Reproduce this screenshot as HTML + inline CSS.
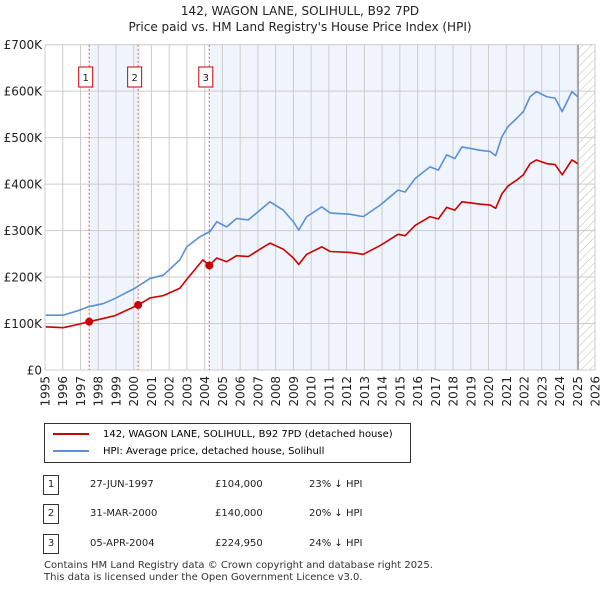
<!DOCTYPE html>
<html><head><meta charset="utf-8"><style>
body{margin:0;background:#fff;font-family:"DejaVu Sans","Liberation Sans",sans-serif;}
#wrap{position:relative;width:600px;height:590px;overflow:hidden;}
.t{position:absolute;color:#222;}
</style></head><body><div id="wrap">
<div class="t" style="left:0;width:600px;text-align:center;top:3px;font-size:12px;line-height:16px;">142, WAGON LANE, SOLIHULL, B92 7PD<br>Price paid vs. HM Land Registry's House Price Index (HPI)</div>
<svg id="chart" width="600" height="420" style="position:absolute;left:0;top:0;font-family:'DejaVu Sans','Liberation Sans',sans-serif;"></svg>
<div style="position:absolute;left:44px;top:423px;width:365px;height:38px;border:1px solid #333;font-size:10px;">
<div style="position:absolute;left:8px;top:5px;white-space:nowrap;"><span style="display:inline-block;width:36px;border-top:2px solid #cc0000;vertical-align:middle;margin-right:14px;"></span>142, WAGON LANE, SOLIHULL, B92 7PD (detached house)</div>
<div style="position:absolute;left:8px;top:22px;white-space:nowrap;"><span style="display:inline-block;width:36px;border-top:2px solid #5b8fd6;vertical-align:middle;margin-right:14px;"></span>HPI: Average price, detached house, Solihull</div>
</div>
<div id="tbl"></div>
<div class="t" style="left:44px;top:560px;font-size:10px;line-height:12px;color:#333;white-space:nowrap;">Contains HM Land Registry data © Crown copyright and database right 2025.<br>This data is licensed under the Open Government Licence v3.0.</div>
</div>
<script>
const hpiYears=[1995.04,1996.03,1996.97,1997.44,1998.29,1998.95,2000.07,2000.92,2001.67,2002.6,2002.99,2003.74,2004.3,2004.68,2005.24,2005.8,2006.46,2007.12,2007.68,2008.43,2009.0,2009.3,2009.75,2010.6,2011.07,2012.2,2012.94,2013.9,2014.9,2015.3,2015.86,2016.7,2017.17,2017.64,2018.1,2018.5,2019.5,2020.1,2020.4,2020.75,2021.1,2021.6,2021.96,2022.34,2022.7,2023.28,2023.75,2024.15,2024.7,2025.03];
const hpiValues=[118,118,129,136,143,154,176,197,204,237,265,287,298,319,308,326,323,344,362,344,319,301,330,351,338,335,330,355,387,383,412,437,430,463,455,480,473,470,461,502,524,542,556,588,599,588,585,556,599,588];
const redYears=[1995.04,1996.03,1996.97,1997.49,1998.29,1998.95,2000.25,2000.92,2001.67,2002.6,2002.99,2003.9,2004.26,2004.68,2005.24,2005.8,2006.46,2007.12,2007.68,2008.43,2009.0,2009.3,2009.75,2010.6,2011.07,2012.2,2012.94,2013.9,2014.9,2015.3,2015.86,2016.7,2017.17,2017.64,2018.1,2018.5,2019.5,2020.1,2020.4,2020.75,2021.1,2021.6,2021.96,2022.34,2022.7,2023.28,2023.75,2024.15,2024.7,2025.03];
const redValues=[93,91,99,104,111,117,140,155,160,176,195,237,225,241,233,246,244,260,273,260,241,227,249,265,255,253,249,268,292,289,311,330,325,350,344,362,357,355,348,379,396,409,420,444,452,444,442,420,452,444];
const saleYears=[1997.49,2000.25,2004.26];
const saleValues=[104,140,224.95];
const saleLabels=["1","2","3"];
const saleDates=["27-JUN-1997","31-MAR-2000","05-APR-2004"];
const salePrices=["£104,000","£140,000","£224,950"];
const saleHpi=["23% ↓ HPI","20% ↓ HPI","24% ↓ HPI"];
const yTicks=[0,100,200,300,400,500,600,700];
const yTickLabels=["£0","£100K","£200K","£300K","£400K","£500K","£600K","£700K"];
const xTicks=[1995,1996,1997,1998,1999,2000,2001,2002,2003,2004,2005,2006,2007,2008,2009,2010,2011,2012,2013,2014,2015,2016,2017,2018,2019,2020,2021,2022,2023,2024,2025,2026];
const dataEnd=2025.05;

const L=45,R=595,T=44.7,B=370,x0=1995,x1=2026,yMax=700;
const X=v=>L+(v-x0)/(x1-x0)*(R-L);
const Y=v=>B-v/yMax*(B-T);
const svg=document.getElementById('chart');
const NS='http://www.w3.org/2000/svg';
function mk(tag,attrs,parent){const e=document.createElementNS(NS,tag);for(const k in attrs)e.setAttribute(k,attrs[k]);(parent||svg).appendChild(e);return e;}
const defs=mk('defs',{});
const pat=mk('pattern',{id:'hatch',width:6,height:6,patternUnits:'userSpaceOnUse',patternTransform:'rotate(45)'},defs);
mk('line',{x1:0,y1:0,x2:0,y2:6,stroke:'#bbb','stroke-width':1},pat);
let s=mk('rect',{x:X(saleYears[0]),y:T,width:X(saleYears[1])-X(saleYears[0]),height:B-T,fill:'#f0f5fd'});

s=mk('rect',{x:X(saleYears[2]),y:T,width:X(dataEnd)-X(saleYears[2]),height:B-T,fill:'#f0f5fd'});

s=mk('rect',{x:X(dataEnd),y:T,width:R-X(dataEnd),height:B-T,fill:'url(#hatch)'});

xTicks.forEach(t=>{const g=mk('line',{x1:X(t),x2:X(t),y1:T,y2:B,stroke:'#ccc','stroke-width':1});

const tx=mk('text',{x:0,y:0,'text-anchor':'end','font-size':12,fill:'#222',transform:'translate('+(X(t)+4.5)+',376) rotate(-90)'});tx.textContent=t;
});
yTicks.forEach((t,i)=>{const g=mk('line',{x1:L,x2:R,y1:Y(t),y2:Y(t),stroke:'#ccc','stroke-width':1});

const tx=mk('text',{x:L-3,y:Y(t)+4.5,'text-anchor':'end','font-size':12,fill:'#222'});tx.textContent=yTickLabels[i];
});
s=mk('line',{x1:X(dataEnd),x2:X(dataEnd),y1:T,y2:B,stroke:'#999','stroke-width':1.5});

saleYears.forEach((y,i)=>{const l=mk('line',{x1:X(y),x2:X(y),y1:T,y2:B,stroke:'#ee5555','stroke-width':1,'stroke-dasharray':'2,2'});

const r=mk('rect',{x:X(y)-10.5,y:67,width:14,height:20,fill:'#fff',stroke:'#cc0000','stroke-width':1});

const t=mk('text',{x:X(y)-3.5,y:81,'text-anchor':'middle','font-size':10,fill:'#222'});t.textContent=saleLabels[i];
});
function line(xs,vs,col,name){const p=mk('polyline',{points:xs.map((x,i)=>X(x)+','+Y(vs[i])).join(' '),fill:'none',stroke:col,'stroke-width':1.6,'stroke-linejoin':'round'});
}
line(hpiYears,hpiValues,'#5b8fd6','hpi-line');
line(redYears,redValues,'#cc0000','price-paid-line');
saleYears.forEach((y,i)=>{const c=mk('circle',{cx:X(y),cy:Y(saleValues[i]),r:4,fill:'#cc0000'});
});
const tbl=document.getElementById('tbl');
saleLabels.forEach((lab,i)=>{const top=[475,504,534][i];
const row=document.createElement('div');


row.style.cssText='position:absolute;left:0;top:'+top+'px;width:600px;height:20px;font-size:10px;color:#222;';
row.innerHTML='<span style="position:absolute;left:43px;top:0;width:14px;height:18px;border:1px solid #333;text-align:center;line-height:18px;">'+lab+'</span>'+
'<span style="position:absolute;left:90px;top:4px;">'+saleDates[i]+'</span>'+
'<span style="position:absolute;left:215px;top:4px;">'+salePrices[i]+'</span>'+
'<span style="position:absolute;left:309px;top:4px;">'+saleHpi[i]+'</span>';
tbl.appendChild(row);});
</script></body></html>
